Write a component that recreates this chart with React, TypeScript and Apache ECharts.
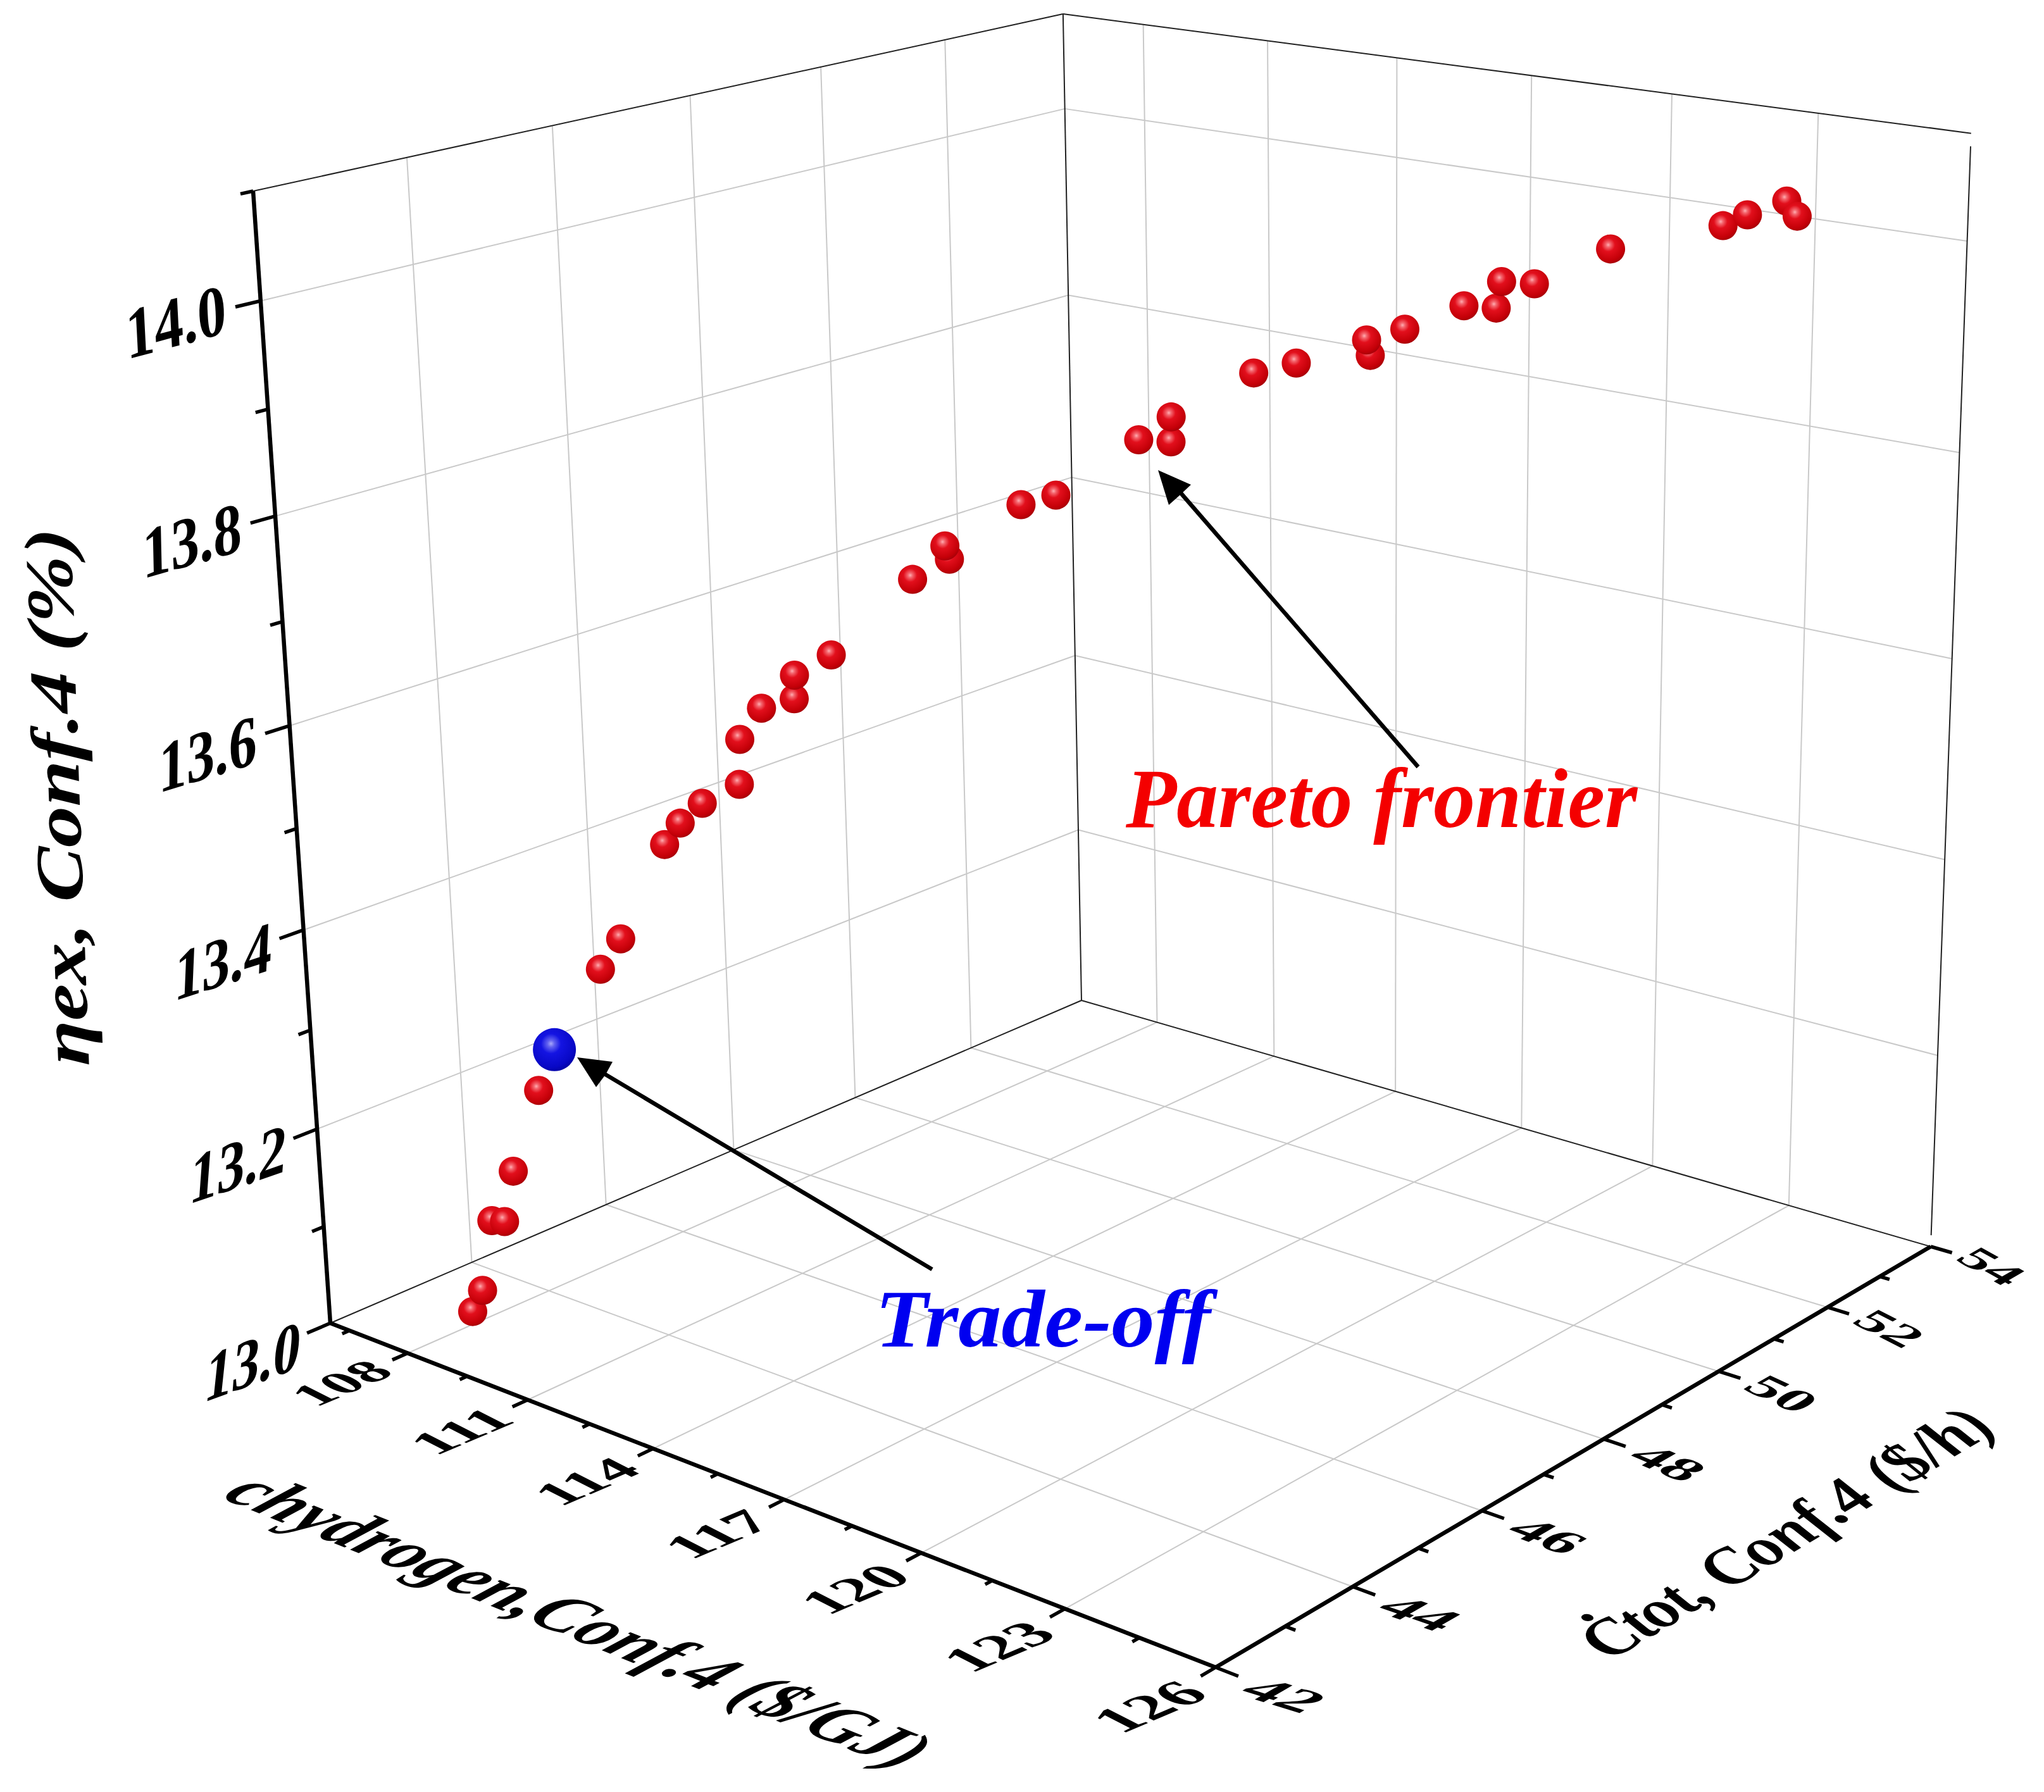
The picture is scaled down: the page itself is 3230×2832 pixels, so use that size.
import React, { useEffect, useRef } from "react";
import * as echarts from "echarts";

// ---- data ----
const hydrogenCost = [107.75,107.87,108.01,108.15,108.28,108.60,109.34,109.58,110.09,110.27,110.52,110.93,110.95,111.20,111.56,111.57,111.97,112.88,113.28,113.23,114.07,114.45,115.36,115.71,115.72,116.62,117.09,117.90,117.86,118.28,118.93,119.29,119.35,119.71,120.55,121.80,122.07,122.51,122.63];
const totalCost = [43.05,43.14,43.25,43.35,43.44,43.68,44.22,44.39,44.78,44.91,45.09,45.39,45.41,45.59,45.85,45.86,46.16,46.82,47.12,47.09,47.70,47.98,48.65,48.91,48.91,49.58,49.92,50.52,50.49,50.80,51.28,51.54,51.58,51.85,52.47,53.39,53.59,53.91,54.00];
const exergyEff = [13.005,13.026,13.097,13.095,13.146,13.226,13.343,13.372,13.462,13.482,13.500,13.516,13.560,13.589,13.596,13.619,13.636,13.704,13.721,13.734,13.769,13.776,13.824,13.820,13.844,13.881,13.888,13.891,13.906,13.914,13.933,13.929,13.954,13.950,13.979,13.995,14.004,14.015,14.000];
const tradeOff = [108.80, 43.82, 13.266];

const xMajor = [108,111,114,117,120,123,126];
const xMinor = [106.5,109.5,112.5,115.5,118.5,121.5,124.5];
const yMajor = [42,44,46,48,50,52,54];
const yMinor = [43,45,47,49,51,53];
const zMajor = [13.0,13.2,13.4,13.6,13.8,14.0];
const zMinor = [13.1,13.3,13.5,13.7,13.9,14.1];
const xRange = [106,126], yRange = [42,54], zRange = [13,14.1];

// ---- box corners on the page, used to calibrate the perspective ----
const A=[522,2091],B=[1921,2635],C=[3051,1970],D=[1709,1581],At=[400,302],Dt=[1680,23],Ct=[3115,217];
function calib(){
  const [x0,y0]=A,[x1,y1]=B,[x2,y2]=C,[x3,y3]=D;
  const dx1=x1-x2,dx2=x3-x2,dx3=x0-x1+x2-x3,dy1=y1-y2,dy2=y3-y2,dy3=y0-y1+y2-y3;
  const den=dx1*dy2-dx2*dy1; const g=(dx3*dy2-dx2*dy3)/den,h=(dx1*dy3-dx3*dy1)/den;
  const a=x1-x0+g*x1,b=x3-x0+h*x3,c=x0,d=y1-y0+g*y1,e=y3-y0+h*y3,f=y0;
  let nn=0,dd=0;
  const eq=(T:number[],xh:number,yh:number,wh:number)=>{
    const p=At[0]-T[0],q=T[0]*wh-xh+c-At[0]; nn+=p*q;dd+=p*p;
    const p2=At[1]-T[1],q2=T[1]*wh-yh+f-At[1]; nn+=p2*q2;dd+=p2*p2;};
  eq(Dt,b+c,e+f,h+1); eq(Ct,a+b+c,d+e+f,g+h+1);
  const ez=nn/dd; const ex=At[0]*(1+ez)-c, ey=At[1]*(1+ez)-f;
  return {a,b,c,d,e,f,g,h,ex,ey,ez};
}
const K=calib();
function project(x:number,y:number,z:number){
  const u=(x-xRange[0])/(xRange[1]-xRange[0]),v=(y-yRange[0])/(yRange[1]-yRange[0]),w=(z-zRange[0])/(zRange[1]-zRange[0]);
  const W=K.g*u+K.h*v+K.ez*w+1;
  return [(K.a*u+K.b*v+K.ex*w+K.c)/W,(K.d*u+K.e*v+K.ey*w+K.f)/W];
}
const seg=(a:number[],b:number[])=>{const p=project(a[0],a[1],a[2]),q=project(b[0],b[1],b[2]);return [p[0],p[1],q[0],q[1]];};
const [x0,x1]=xRange,[y0,y1]=yRange,[z0,z1]=zRange;

// grid lines
const gridSegs:number[][]=[];
xMajor.filter(x=>x<x1).forEach(x=>{gridSegs.push(seg([x,y0,z0],[x,y1,z0]),seg([x,y1,z0],[x,y1,z1]));});
yMajor.filter(y=>y>y0&&y<y1).forEach(y=>{gridSegs.push(seg([x0,y,z0],[x1,y,z0]),seg([x0,y,z0],[x0,y,z1]));});
zMajor.filter(z=>z>z0).forEach(z=>{gridSegs.push(seg([x0,y0,z],[x0,y1,z]),seg([x0,y1,z],[x1,y1,z]));});
// thin frame
const frameSegs=[seg([x0,y0,z0],[x0,y1,z0]),seg([x0,y1,z0],[x1,y1,z0]),seg([x0,y1,z0],[x0,y1,z1]),seg([x0,y0,z1],[x0,y1,z1]),seg([x0,y1,z1],[x1,y1,z1]),seg([x1,y1,z0+0.012],[x1,y1,z1-0.012])];
// thick axes + ticks
const axisSegs=[seg([x0,y0,z0],[x0,y0,z1]),seg([x0,y0,z0],[x1,y0,z0]),seg([x1,y0,z0],[x1,y1,z0])];
const tickSegs:number[][]=[];
xMajor.forEach(x=>tickSegs.push(seg([x,y0,z0],[x,y0-0.21,z0])));
xMinor.forEach(x=>tickSegs.push(seg([x,y0,z0],[x,y0-0.1,z0])));
yMajor.forEach(y=>tickSegs.push(seg([x1,y,z0],[x1+0.44,y,z0])));
yMinor.forEach(y=>tickSegs.push(seg([x1,y,z0],[x1+0.2,y,z0])));
zMajor.forEach(z=>tickSegs.push(seg([x0,y0,z],[x0,y0-0.32,z])));
zMinor.forEach(z=>tickSegs.push(seg([x0,y0,z],[x0,y0-0.16,z])));

const sphere=(hi:string,soft:string,mid:string,dark:string,edge:string)=>({type:"radial",x:0.42,y:0.36,r:0.68,colorStops:[{offset:0,color:hi},{offset:0.12,color:soft},{offset:0.34,color:mid},{offset:0.8,color:dark},{offset:1,color:edge}]});

const SERIF='"Liberation Serif"';
const measure=document.createElement("canvas").getContext("2d")!;
const rad=(d:number)=>d*Math.PI/180;
/** Real text under an arbitrary 2D linear map: rotation · scale · rotation. */
function skewText(text:string,o:{font:string;size:number;color?:string;cx:number;cy:number;r:number;width:number;up:number;sy:number}){
  const font=`${o.font} ${o.size}px ${SERIF}`;
  measure.font=font;
  const sx=o.width/measure.measureText(text).width;
  const m00=Math.cos(rad(o.r))*sx,m10=Math.sin(rad(o.r))*sx;
  const m01=-Math.cos(rad(o.up))*o.sy,m11=-Math.sin(rad(o.up))*o.sy;
  const E=(m00+m11)/2,F=(m00-m11)/2,G=(m10+m01)/2,H=(m10-m01)/2;
  const Q=Math.hypot(E,H),R=Math.hypot(F,G);
  const a1=Math.atan2(G,F),a2=Math.atan2(H,E);
  const theta=(a2-a1)/2,phi=(a2+a1)/2;
  return {type:"group",x:o.cx,y:o.cy,rotation:-phi,scaleX:Q+R,scaleY:Q-R,z:100,children:[
    {type:"text",rotation:-theta,z:100,style:{text,x:0,y:0,font,fill:o.color||"#000",align:"center",verticalAlign:"middle",textAlign:"center",textVerticalAlign:"middle"}}
  ]};
}
const lerp=(a:number,b:number,t:number)=>a+(b-a)*t;

const labelEls:any[]=[];
zMajor.forEach(z=>{const t=(z-13)/1;const p=project(x0,y0,z);
  labelEls.push(skewText(z.toFixed(1),{font:"bold",size:114,cx:p[0]+lerp(-122,-134,t),cy:p[1]+lerp(60,33,t),r:lerp(-20,-15,t),width:lerp(160,164,t),up:lerp(-84,-93,t),sy:1}));});
xMajor.forEach(x=>{const t=(x-108)/18;const p=project(x,y0,z0);
  labelEls.push(skewText(String(x),{font:"bold",size:100,cx:p[0]-105,cy:p[1]+lerp(47,62,t),r:-23,width:lerp(138,155,t),up:207,sy:lerp(0.78,0.9,t)}));});
yMajor.forEach(y=>{const t=(y-42)/12;const p=project(x1,y,z0);
  labelEls.push(skewText(String(y),{font:"bold",size:100,cx:p[0]+lerp(108,96,t),cy:p[1]+lerp(44,31,t),r:lerp(17,29,t),width:lerp(110,92,t),up:-30,sy:lerp(0.8,0.66,t)}));});
labelEls.push(skewText("chydrogen,Conf.4 ($/GJ)",{font:"italic bold",size:100,cx:917,cy:2560,r:21.8,width:1160,up:-36,sy:1.12}));
labelEls.push(skewText("\u010Atot, Conf.4 ($/h)",{font:"italic bold",size:100,cx:2822,cy:2422,r:-30.7,width:715,up:-150,sy:1.12}));
labelEls.push(skewText("\u03B7ex, Conf.4 (%)",{font:"italic bold",size:106,cx:90,cy:1259,r:-92,width:850,up:182,sy:1}));
labelEls.push(skewText("Pareto frontier",{font:"italic bold",size:133,color:"#f40000",cx:2183,cy:1262,r:0,width:808,up:-90,sy:1}));
labelEls.push(skewText("Trade-off",{font:"italic bold",size:130,color:"#0000f0",cx:1648,cy:2084,r:0,width:530,up:-90,sy:1}));

const arrows=[
  {line:[2241,1212,1858,770],head:[[1830,743],[1882,766],[1865,782],[1847,798]]},
  {line:[1473,2006,950,1694],head:[[912,1671],[968,1678],[957,1698],[942,1718]]},
];
const arrowEls=arrows.flatMap(a=>[
  {type:"line",z:90,shape:{x1:a.line[0],y1:a.line[1],x2:a.line[2],y2:a.line[3]},style:{stroke:"#000",lineWidth:6.5}},
  {type:"polygon",z:91,shape:{points:a.head},style:{fill:"#000"}},
]);

const lineSeries=(id:string,data:number[][],stroke:string,lineWidth:number,z:number)=>({
  type:"custom",id,z,silent:true,coordinateSystem:"cartesian2d",clip:false,data,encode:{x:[0,2],y:[1,3]},
  renderItem:(_:any,api:any)=>{
    const p=api.coord([api.value(0),api.value(1)]),q=api.coord([api.value(2),api.value(3)]);
    return {type:"line",shape:{x1:p[0],y1:p[1],x2:q[0],y2:q[1]},style:{stroke,lineWidth,lineCap:"butt"}};
  },
});

export default function App(){
  const ref=useRef<HTMLDivElement>(null);
  useEffect(()=>{
    document.body.style.margin="0";
    const chart=echarts.init(ref.current!,null,{renderer:"svg"});
    const hidden={show:false,type:"value" as const};
    chart.setOption({
      animation:false,backgroundColor:"#fff",
      grid:{left:0,top:0,right:0,bottom:0},
      xAxis:{...hidden,min:0,max:3230},
      yAxis:{...hidden,min:0,max:2832,inverse:true},
      series:[
        lineSeries("grid",gridSegs,"#c9c9c9",2,1),
        lineSeries("frame",frameSegs,"#222",2,2),
        lineSeries("ticks",tickSegs,"#000",5.5,3),
        lineSeries("axes",axisSegs,"#000",6.5,3),
        {type:"scatter",id:"pareto",name:"Pareto frontier",z:5,symbol:"circle",symbolSize:46,
          data:hydrogenCost.map((x,i)=>project(x,totalCost[i],exergyEff[i])),
          itemStyle:{color:sphere("#ffaeb2","#f4666e","#e20f1c","#c40008","#a00008"),opacity:1}},
        {type:"scatter",id:"tradeoff",name:"Trade-off",z:6,symbol:"circle",symbolSize:68,
          data:[project(tradeOff[0],tradeOff[1],tradeOff[2])],
          itemStyle:{color:sphere("#a8a8fa","#6262f0","#1414e2","#0808c6","#0000a0"),opacity:1}},
      ],
      graphic:{elements:[...arrowEls,...labelEls]},
    });
    return ()=>chart.dispose();
  },[]);
  return <div ref={ref} style={{width:3230,height:2832}}/>;
}
